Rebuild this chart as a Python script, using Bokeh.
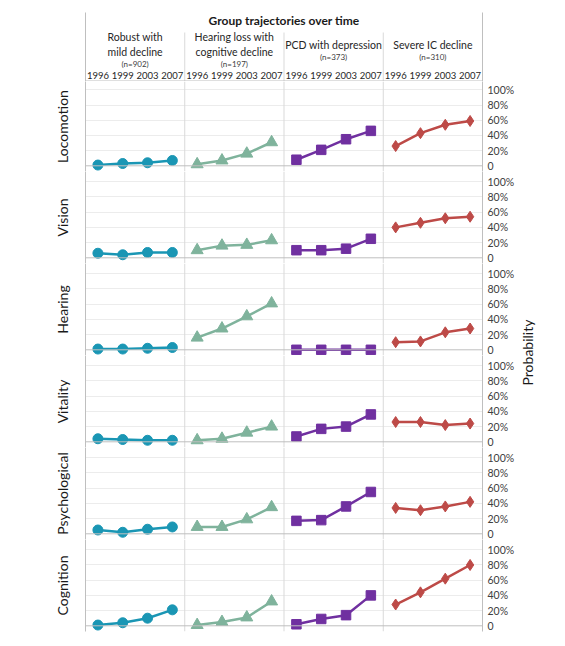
import math
from bokeh.plotting import figure
from bokeh.models import Range1d, LinearAxis, FixedTicker, Span, Grid
from bokeh.layouts import column, row
from bokeh.embed import file_html
from bokeh.resources import INLINE
from bokeh.core.properties import value

# ---------------- data ----------------
years = ["1996", "1999", "2003", "2007"]
group_names = ["Robust with\nmild decline", "Hearing loss with\ncognitive decline",
               "PCD with depression", "Severe IC decline"]
group_n = ["(n=902)", "(n=197)", "(n=373)", "(n=310)"]
group_colors = ["#1a96b4", "#7fb39c", "#7030a0", "#bd4a47"]
group_markers = ["circle", "triangle", "square", "diamond"]
group_sizes = [10, 12, 9.5, 11]

dimensions = ["Locomotion", "Vision", "Hearing", "Vitality", "Psychological", "Cognition"]

# one list per dimension: [robust, hearing loss, PCD, severe IC], each over the 4 waves
locomotion = [[0.01, 0.03, 0.04, 0.07], [0.02, 0.07, 0.16, 0.31],
              [0.08, 0.21, 0.35, 0.46], [0.26, 0.43, 0.54, 0.59]]
vision = [[0.06, 0.04, 0.07, 0.07], [0.10, 0.16, 0.17, 0.23],
          [0.10, 0.10, 0.12, 0.25], [0.40, 0.46, 0.52, 0.54]]
hearing = [[0.01, 0.01, 0.02, 0.03], [0.16, 0.28, 0.44, 0.61],
           [0.00, 0.00, 0.00, 0.00], [0.10, 0.11, 0.23, 0.28]]
vitality = [[0.04, 0.03, 0.02, 0.02], [0.02, 0.04, 0.12, 0.20],
            [0.07, 0.17, 0.20, 0.36], [0.26, 0.26, 0.22, 0.24]]
psychological = [[0.05, 0.02, 0.06, 0.09], [0.09, 0.09, 0.19, 0.35],
                 [0.17, 0.18, 0.36, 0.55], [0.34, 0.31, 0.36, 0.42]]
cognition = [[0.01, 0.04, 0.10, 0.21], [0.01, 0.05, 0.11, 0.32],
             [0.02, 0.09, 0.14, 0.40], [0.28, 0.44, 0.62, 0.80]]
all_data = [locomotion, vision, hearing, vitality, psychological, cognition]

prob_ticks = [0, 0.2, 0.4, 0.6, 0.8, 1.0]
prob_labels = ["0", "20%", "40%", "60%", "80%", "100%"]

# ---------------- layout constants ----------------
FONT = "Lato"
BORDER = "#bfbfbf"
SEP = "#d9d9d9"
GRID = "#ececec"
LEFT = 85
RIGHT = 30
FRAME_W = 397
TOP_PAD = 12
n_per = len(years)
n_groups = len(group_names)
x_lo, x_hi = -0.5, n_groups * n_per - 0.5
seps = [g * n_per - 0.5 for g in range(1, n_groups)]


def base_fig(frame_h, y_range, top=0, bottom=0):
    p = figure(frame_width=FRAME_W, frame_height=frame_h,
               x_range=Range1d(x_lo, x_hi), y_range=y_range,
               output_backend="svg", toolbar_location=None,
               x_axis_location=None, y_axis_location=None,
               min_border_left=LEFT, min_border_right=RIGHT,
               min_border_top=top, min_border_bottom=bottom)
    p.outline_line_color = None
    p.grid.visible = False
    p.background_fill_color = "white"
    p.border_fill_color = "white"
    return p


def border_axis(label=""):
    ax = LinearAxis(ticker=FixedTicker(ticks=[]), axis_line_color=BORDER,
                    major_tick_line_color=None, minor_tick_line_color=None,
                    major_tick_out=0, major_tick_in=0,
                    major_label_text_font_size="0px", major_label_standoff=0)
    if label:
        ax.axis_label = label
        ax.axis_label_text_font = FONT
        ax.axis_label_text_font_size = "14px"
        ax.axis_label_text_font_style = "normal"
        ax.axis_label_text_color = "#1a1a1a"
        ax.axis_label_standoff = 15
    return ax


# ---------------- header ----------------
HEAD_H = 69
header = base_fig(HEAD_H, Range1d(HEAD_H, 0), top=TOP_PAD)
header.add_layout(border_axis(), "left")
header.add_layout(border_axis(), "right")
header.text(x=[(x_lo + x_hi) / 2], y=[8], text=["Group trajectories over time"],
            text_font=value(FONT), text_font_size="12px", text_font_style="bold",
            text_align="center", text_baseline="middle", text_color="#1a1a1a")
line_h = 13.5
for g, (name, nlab) in enumerate(zip(group_names, group_n)):
    n_lines = name.count("\n") + 1
    block = n_lines * line_h + 12
    top = 38 - block / 2
    cx = g * n_per + (n_per - 1) / 2
    header.text(x=[cx], y=[top + n_lines * line_h / 2], text=[name],
                text_font=value(FONT), text_font_size="10.5px",
                text_align="center", text_baseline="middle", text_color="#262626",
                text_line_height=1.2)
    header.text(x=[cx], y=[top + n_lines * line_h + 6], text=[nlab],
                text_font=value(FONT), text_font_size="8px",
                text_align="center", text_baseline="middle", text_color="#404040")
    header.text(x=[g * n_per + i for i in range(n_per)], y=[63] * n_per, text=years,
                text_font=value(FONT), text_font_size="9.5px",
                text_align="center", text_baseline="middle", text_color="#262626")
header.segment(x0=seps, y0=[20] * len(seps), x1=seps, y1=[HEAD_H] * len(seps),
               line_color=SEP, line_width=1)
header.add_layout(Span(location=HEAD_H - 0.5, dimension="width", line_color=BORDER, line_width=1))

# ---------------- rows ----------------
figs = [header]
heights = [TOP_PAD + HEAD_H]
for r, (dim, data) in enumerate(zip(dimensions, all_data)):
    last = r == len(dimensions) - 1
    y_top = 1.11 if r == 0 else 1.135
    h = 90 if r == 0 else 92
    bottom = 6 if last else 0
    p = base_fig(h, Range1d(-0.075, y_top), bottom=bottom)
    heights.append(h + bottom)
    p.add_layout(border_axis(dim), "left")
    rax = LinearAxis(ticker=FixedTicker(ticks=prob_ticks),
                     major_label_overrides={t: l for t, l in zip(prob_ticks, prob_labels)},
                     axis_line_color=BORDER, major_tick_line_color=None,
                     minor_tick_line_color=None, major_tick_out=0, major_tick_in=0,
                     major_label_standoff=5,
                     major_label_text_font=FONT, major_label_text_font_size="10.5px",
                     major_label_text_color="#404040")
    p.add_layout(rax, "right")
    p.add_layout(Grid(dimension=1, ticker=FixedTicker(ticks=prob_ticks[1:]),
                      grid_line_color=GRID, grid_line_width=1))
    for s in seps:
        p.add_layout(Span(location=s, dimension="height", line_color=SEP, line_width=1))
    p.add_layout(Span(location=0, dimension="width", line_color=BORDER, line_width=1))
    for g in range(n_groups):
        xs = [g * n_per + i for i in range(n_per)]
        ys = data[g]
        p.line(xs, ys, line_color=group_colors[g], line_width=2.5)
        p.scatter(xs, ys, marker=group_markers[g], size=group_sizes[g],
                  fill_color=group_colors[g], line_color=group_colors[g])
    figs.append(p)

total_h = sum(heights)
grid_top = heights[0]
grid_bottom = total_h - 6

# ---------------- right label ----------------
prob = figure(width=26, height=total_h, x_range=Range1d(0, 26), y_range=Range1d(total_h, 0),
              output_backend="svg", toolbar_location=None,
              x_axis_location=None, y_axis_location=None,
              min_border_left=0, min_border_right=0, min_border_top=0, min_border_bottom=0)
prob.outline_line_color = None
prob.grid.visible = False
prob.text(x=[10], y=[(grid_top + grid_bottom) / 2 - 4], text=["Probability"], angle=math.pi / 2,
          text_font=value(FONT), text_font_size="14px", text_align="center",
          text_baseline="middle", text_color="#1a1a1a")

layout = row(column(*figs, spacing=0), prob, spacing=0)
open("out.html", "w").write(file_html(layout, INLINE))
